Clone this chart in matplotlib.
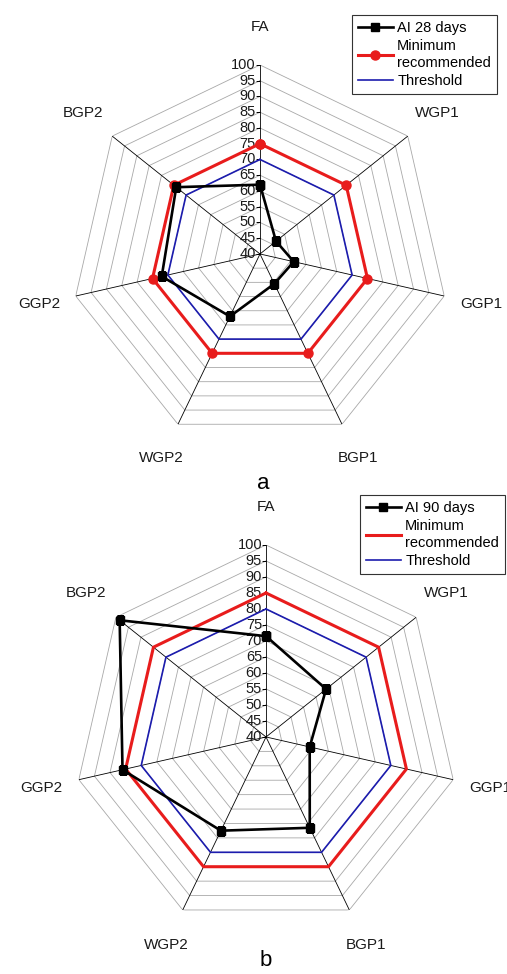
import numpy as np
import matplotlib.pyplot as plt
from matplotlib.transforms import offset_copy

plt.rcParams['font.family'] = ['Liberation Sans', 'DejaVu Sans']

categories = ['FA', 'WGP1', 'GGP1', 'BGP1', 'WGP2', 'GGP2', 'BGP2']
levels = [40, 45, 50, 55, 60, 65, 70, 75, 80, 85, 90, 95, 100]

ai_28 = [62, 46.5, 51, 50.5, 62, 72, 74]
minimum_28 = [75, 75, 75, 75, 75, 75, 75]
threshold_28 = [70, 70, 70, 70, 70, 70, 70]

ai_90 = [71.5, 64, 54, 71.5, 72.5, 86, 98.5]
minimum_90 = [85, 85, 85, 85, 85, 85, 85]
threshold_90 = [80, 80, 80, 80, 80, 80, 80]

RED = '#e81c1c'
BLUE = '#1c1cae'


def close(v):
    return list(v) + [v[0]]


def radar(fig, rect, ai, ai_label, minimum, threshold, red_markers, legend_xy):
    ax = fig.add_axes(rect, projection='polar')
    n = len(categories)
    angles = np.arange(n) * 2 * np.pi / n
    closed = close(angles)
    ax.set_theta_zero_location('N')
    ax.set_theta_direction(-1)
    ax.set_ylim(40, 100)
    ax.grid(False)
    ax.spines['polar'].set_visible(False)
    ax.set_xticks([])
    ax.set_yticks([])

    # heptagon grid and spokes
    for lv in levels[1:]:
        ax.plot(closed, [lv] * (n + 1), color='#a8a8a8', lw=0.6, zorder=1)
    for a in angles:
        ax.plot([a, a], [40, 100], color='black', lw=0.6, zorder=1.5)

    # value scale along the FA spoke
    ax.plot(np.zeros(len(levels)), levels, ls='none', marker=0, ms=3,
            mew=0.6, color='black', zorder=2)
    tr = offset_copy(ax.transData, fig=fig, x=-4, y=0, units='dots')
    for lv in levels:
        ax.text(0, lv, str(lv), transform=tr, ha='right', va='center',
                fontsize=10.5, color='#1a1a1a')

    for a, cat in zip(angles, categories):
        ax.text(a, 112, cat, ha='center', va='center', fontsize=11,
                color='#1a1a1a', clip_on=False)

    ax.plot(closed, close(threshold), color=BLUE, lw=1.2, label='Threshold', zorder=3)
    if red_markers:
        ax.plot(closed, close(minimum), color=RED, lw=2.2, marker='o', ms=6.5,
                label='Minimum\nrecommended', zorder=4)
    else:
        ax.plot(closed, close(minimum), color=RED, lw=2.2,
                label='Minimum\nrecommended', zorder=4)
    ax.plot(closed, close(ai), color='black', lw=1.9, marker='s', ms=5.5,
            label=ai_label, zorder=5)

    h, l = ax.get_legend_handles_labels()
    order = [2, 1, 0]
    leg = ax.legend([h[i] for i in order], [l[i] for i in order],
                    loc='upper left', bbox_to_anchor=legend_xy,
                    bbox_transform=fig.transFigure, fontsize=10.5,
                    frameon=True, fancybox=False, framealpha=1,
                    edgecolor='#333333', borderaxespad=0, borderpad=0.4,
                    handlelength=2.4, handletextpad=0.3, labelspacing=0.3)
    leg.get_frame().set_linewidth(0.8)
    for t in leg.get_texts():
        t.set_linespacing(1.25)
    return ax


fig = plt.figure(figsize=(5.07, 9.74), dpi=100)

radar(fig, [0.1400, 0.5452, 0.7456, 0.3881], ai_28, 'AI 28 days',
      minimum_28, threshold_28, True, (352 / 507, 1 - 15 / 974))
fig.text(263 / 507, 1 - 483 / 974, 'a', ha='center', va='center', fontsize=16)

radar(fig, [0.1460, 0.0462, 0.7574, 0.3943], ai_90, 'AI 90 days',
      minimum_90, threshold_90, False, (360 / 507, 1 - 495 / 974))
fig.text(266 / 507, 1 - 961 / 974, 'b', ha='center', va='center', fontsize=16)

fig.savefig('out.png', dpi=100)
